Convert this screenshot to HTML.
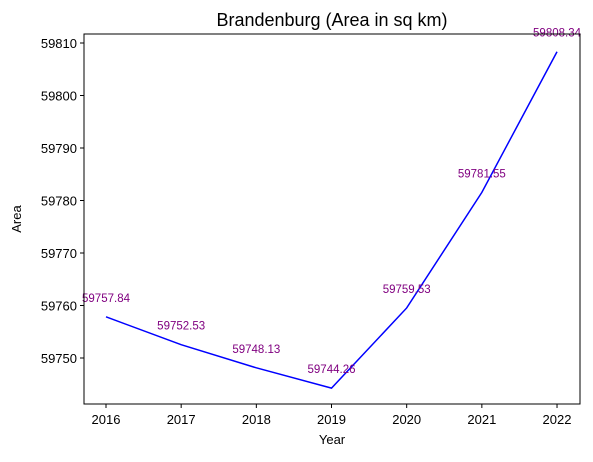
<!DOCTYPE html>
<html><head><meta charset="utf-8"><style>
body{margin:0;background:#fff}
svg{font-family:"Liberation Sans","DejaVu Sans",sans-serif}
</style></head><body>
<svg width="593" height="457" xmlns="http://www.w3.org/2000/svg">
<rect width="593" height="457" fill="#fff"/>
<text x="332" y="26" font-size="18" text-anchor="middle">Brandenburg (Area in sq km)</text>
<g id="plot"></g>
<rect x="84" y="34" width="496" height="370" fill="none" stroke="#000" stroke-width="1"/>
<text x="332" y="444" font-size="13" text-anchor="middle">Year</text>
<text x="21" y="219" font-size="13" text-anchor="middle" transform="rotate(-90 21 219)">Area</text>
</svg>
<script>
const years=[2016,2017,2018,2019,2020,2021,2022];
const areas=[59757.84,59752.53,59748.13,59744.26,59759.53,59781.55,59808.34];
const yTicks=[59750,59760,59770,59780,59790,59800,59810];
const NS="http://www.w3.org/2000/svg";
const g=document.getElementById('plot');
function xs(v){return 106+(v-2016)*75.17;}
function ys(v){return 358-(v-59750)*5.25;}
function mk(t,a){const e=document.createElementNS(NS,t);for(const k in a)e.setAttribute(k,a[k]);g.appendChild(e);return e;}
years.forEach(y=>{
 const l=mk('line',{x1:xs(y),x2:xs(y),y1:404,y2:408,stroke:'#000'});
 
 
 const t=mk('text',{x:xs(y),y:424,'font-size':13,'text-anchor':'middle'});t.textContent=y;
 
 
});
yTicks.forEach(v=>{
 const l=mk('line',{x1:80,x2:84,y1:ys(v),y2:ys(v),stroke:'#000'});
 
 
 const t=mk('text',{x:77,y:ys(v)+5,'font-size':13,'text-anchor':'end'});t.textContent=v;
 
 
});
const p=mk('polyline',{points:years.map((y,i)=>xs(y)+','+ys(areas[i])).join(' '),fill:'none',stroke:'#0000ff','stroke-width':1.5});


years.forEach((y,i)=>{
 const t=mk('text',{x:xs(y),y:ys(areas[i])-15,'font-size':11.5,'text-anchor':'middle',fill:'#800080'});
 t.textContent=areas[i].toFixed(2);
 
 
});
</script>
</body></html>
